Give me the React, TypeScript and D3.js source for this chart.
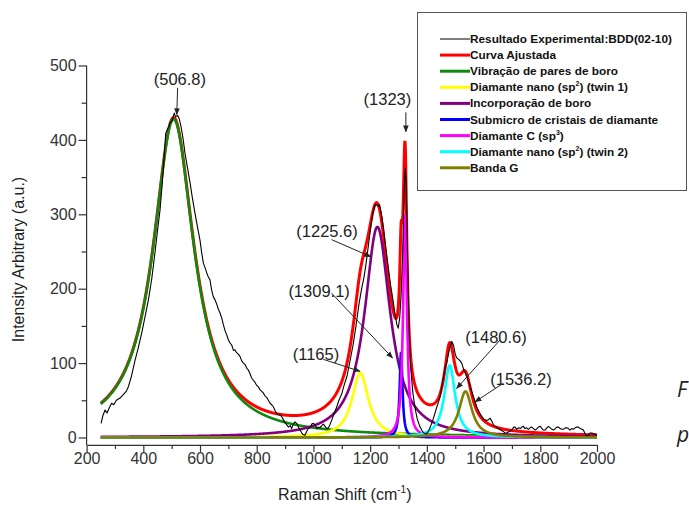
import React, { useEffect, useRef } from 'react';
import * as d3 from 'd3';

// experimental spectrum (Raman shift, intensity)
const expShift = [251, 258, 265, 272, 280, 288, 296, 305, 318, 330, 340, 347, 358, 371, 382, 394, 406, 418, 430, 441, 450, 459, 466, 471, 476, 479, 485, 490, 494, 500, 505, 509, 514, 521, 527, 533, 540, 547, 556, 565, 573, 582, 591, 600, 606, 612, 618, 624, 629, 635, 641, 647, 653, 660, 665, 671, 677, 682, 688, 694, 700, 706, 712, 718, 723, 729, 735, 741, 747, 753, 759, 765, 770, 776, 782, 788, 794, 800, 806, 812, 818, 823, 829, 835, 841, 847, 853, 859, 865, 871, 877, 883, 888, 894, 900, 906, 912, 918, 923, 929, 935, 941, 947, 953, 959, 964, 970, 976, 982, 988, 994, 1000, 1006, 1012, 1018, 1023, 1029, 1035, 1041, 1047, 1053, 1059, 1065, 1073, 1082, 1090, 1100, 1108, 1118, 1130, 1140, 1150, 1160, 1170, 1178, 1185, 1195, 1203, 1210, 1216, 1222, 1228, 1233, 1240, 1248, 1256, 1264, 1272, 1280, 1288, 1294, 1299, 1304, 1309, 1314, 1318, 1321, 1324, 1327, 1330, 1334, 1338, 1343, 1350, 1358, 1366, 1375, 1383, 1390, 1398, 1405, 1412, 1420, 1428, 1436, 1447, 1458, 1465, 1470, 1476, 1482, 1488, 1494, 1500, 1505, 1512, 1517, 1523, 1531, 1541, 1550, 1558, 1567, 1576, 1585, 1594, 1602, 1611, 1617, 1623, 1629, 1635, 1641, 1652, 1660, 1670, 1676, 1682, 1690, 1700, 1706, 1711, 1717, 1723, 1729, 1735, 1740, 1746, 1752, 1758, 1764, 1770, 1776, 1782, 1788, 1794, 1800, 1806, 1811, 1817, 1823, 1829, 1835, 1841, 1847, 1853, 1858, 1864, 1870, 1876, 1882, 1888, 1893, 1899, 1905, 1911, 1917, 1923, 1929, 1935, 1941, 1947, 1952, 1958, 1964, 1970, 1976, 1982, 1988, 1994, 2000];
const expIntensity = [19, 30, 37, 33, 40, 46, 44, 50, 53, 58, 62, 68, 82, 104, 120, 140, 162, 185, 214, 248, 278, 306, 338, 364, 392, 409, 414, 418, 423, 425, 430, 436, 431, 433, 428, 418, 402, 382, 362, 342, 322, 302, 283, 265, 248, 234, 228, 221, 216, 212, 198, 189, 185, 178, 172, 167, 160, 152, 144, 138, 131, 127, 124, 117, 118, 114, 112, 109, 103, 100, 98, 93, 91, 86, 80, 77, 74, 70, 68, 64, 62, 60, 56, 54, 50, 46, 44, 41, 36, 32, 31, 30, 28, 24, 20, 17, 14, 16, 12, 18, 21, 19, 14, 10, 6, 4, 3, 8, 12, 13, 18, 19, 17, 12, 14, 13, 16, 18, 15, 12, 13, 18, 24, 32, 41, 50, 59, 70, 82, 105, 125, 150, 178, 200, 215, 232, 262, 285, 303, 312, 313, 311, 313, 300, 278, 252, 228, 205, 186, 165, 152, 147, 160, 190, 240, 300, 345, 362, 340, 280, 200, 140, 95, 62, 40, 25, 15, 9, 6, 5, 8, 14, 22, 32, 42, 55, 80, 95, 100, 112, 122, 129, 124, 112, 107, 105, 103, 100, 90, 82, 72, 62, 52, 41, 34, 28, 24, 23, 24, 26, 22, 17, 15, 12, 10, 8, 6, 6, 8, 10, 14, 14, 11, 13, 12, 14, 15, 12, 13, 11, 13, 14, 12, 10, 12, 14, 15, 12, 10, 10, 13, 15, 13, 11, 10, 12, 14, 14, 12, 11, 11, 13, 13, 12, 10, 12, 11, 13, 14, 14, 12, 11, 10, 5, 2, 4, 6, 6, 5, 4, 3];

// fitted Lorentzian peaks: green, yellow, purple, blue, magenta, cyan, olive
const peakNames = ['Vibração de pares de boro', 'Diamante nano (sp2) (twin 1)', 'Incorporação de boro', 'Submicro de cristais de diamante', 'Diamante C (sp3)', 'Diamante nano (sp2) (twin 2)', 'Banda G'];
const peakCenters = [506.8, 1165, 1225.6, 1309.1, 1323, 1480.6, 1536.2];
const peakHeights = [428, 87, 283, 115, 300, 97, 62];
const peakHalfWidths = [88, 35, 55, 6, 8, 23, 28];
const peakColors = ['#0f8a0f', '#ffff00', '#800080', '#0000ff', '#ff00ff', '#00ffff', '#808000'];

// legend rows: [main text, superscript, rest, color, stroke]
const legendRows = [
  ['Resultado Experimental:BDD(02-10)', '', '', '#000000', 1],
  ['Curva Ajustada', '', '', '#ff0000', 3],
  ['Vibração de pares de boro', '', '', '#0f8a0f', 3],
  ['Diamante nano (sp', '2', ') (twin 1)', '#ffff00', 3],
  ['Incorporação de boro', '', '', '#800080', 3],
  ['Submicro de cristais de diamante', '', '', '#0000ff', 3],
  ['Diamante C (sp', '3', ')', '#ff00ff', 3],
  ['Diamante nano (sp', '2', ') (twin 2)', '#00ffff', 3],
  ['Banda G', '', '', '#808000', 3],
];

// peak labels: text position and arrow (data units)
const annLabels = ['(506.8)', '(1323)', '(1225.6)', '(1309.1)', '(1165)', '(1480.6)', '(1536.2)'];
const annText = [[529, 474], [1261, 447], [1048, 269], [1020, 189], [1009, 104], [1644, 127], [1732, 71]];
const annArrow = [[521, 470, 518, 434], [1326, 437, 1326, 411], [1064, 266, 1202, 243], [1064, 194, 1279, 107], [1035, 105, 1164, 89], [1658, 131, 1505, 66], [1670, 73, 1570, 48]];

const xTicks = [200, 400, 600, 800, 1000, 1200, 1400, 1600, 1800, 2000];
const yTicks = [0, 100, 200, 300, 400, 500];

const FONT = "Arial, 'Liberation Sans', sans-serif";

const App = () => {
  const svgRef = useRef(null);

  useEffect(() => {
    const svg = d3.select(svgRef.current);
    svg.selectAll('*').remove();

    const x = d3.scaleLinear().domain([200, 2000]).range([86.6, 597]);
    const y = d3.scaleLinear().domain([0, 500]).range([437.5, 65.5]);
    const axisColor = '#333';

    const defs = svg.append('defs');
    defs.append('marker')
      .attr('id', 'arr')
      .attr('viewBox', '0 0 10 10')
      .attr('refX', 9).attr('refY', 5)
      .attr('markerWidth', 7).attr('markerHeight', 7)
      .attr('markerUnits', 'userSpaceOnUse')
      .attr('orient', 'auto')
      .append('path')
      .attr('d', 'M0,1 L10,5 L0,9 Z')
      .attr('fill', '#222');

    // axes
    const xg = svg.append('g').attr('transform', `translate(0, ${y(-10)})`);
    xg.call(d3.axisBottom(x).tickValues(xTicks).tickSize(7).tickSizeOuter(0).tickPadding(1).tickFormat(d3.format('d')));
    xg.append('g').call(d3.axisBottom(x).tickValues(d3.range(300, 2000, 200)).tickSize(4).tickFormat(() => ''))
      .select('.domain').remove();
    xg.selectAll('text').attr('font-size', 16).attr('font-family', FONT).attr('fill', axisColor);
    xg.selectAll('line,path').attr('stroke', axisColor).attr('stroke-width', 1.2);

    const yg = svg.append('g').attr('transform', `translate(${x(200)}, 0)`);
    yg.call(d3.axisLeft(y).tickValues(yTicks).tickSize(8).tickSizeOuter(0).tickPadding(2));
    yg.select('.domain').remove();
    yg.append('g').call(d3.axisLeft(y).tickValues(d3.range(50, 500, 100)).tickSize(5).tickFormat(() => ''))
      .select('.domain').remove();
    yg.append('line').attr('x1', 0).attr('x2', 0).attr('y1', y(-10)).attr('y2', y(500));
    yg.selectAll('text').attr('font-size', 16).attr('font-family', FONT).attr('fill', axisColor);
    yg.selectAll('line').attr('stroke', axisColor).attr('stroke-width', 1.2);

    // axis titles
    svg.append('text')
      .attr('transform', `translate(24, ${(y(0) + y(500)) / 2 + 8}) rotate(-90)`)
      .attr('text-anchor', 'middle')
      .attr('font-family', FONT).attr('font-size', 16).attr('fill', '#222')
      .text('Intensity Arbitrary (a.u.)');
    const xt = svg.append('text')
      .attr('x', (x(200) + x(2000)) / 2 + 3).attr('y', 500)
      .attr('text-anchor', 'middle')
      .attr('font-family', FONT).attr('font-size', 16).attr('fill', '#222');
    xt.append('tspan').text('Raman Shift (cm');
    xt.append('tspan').attr('font-size', 10).attr('dy', -7).text('-1');
    xt.append('tspan').attr('dy', 7).text(')');

    // fitted curves
    const grid = d3.range(250, 2000.5, 1);
    const lor = (i, v) => peakHeights[i] / (1 + ((v - peakCenters[i]) / peakHalfWidths[i]) ** 2);
    const line = d3.line().x((d) => x(d[0])).y((d) => y(d[1]));

    const sum = grid.map((v) => [v, peakCenters.reduce((s, _c, i) => s + lor(i, v), 0)]);
    svg.append('path').datum(sum)
      .attr('fill', 'none').attr('stroke', '#ff0000').attr('stroke-width', 3).attr('d', line);

    peakNames.forEach((_n, i) => {
      svg.append('path').datum(grid.map((v) => [v, lor(i, v)]))
        .attr('fill', 'none').attr('stroke', peakColors[i]).attr('stroke-width', 2.6)
        .attr('d', line);
    });

    // experimental
    svg.append('path').datum(expShift.map((v, i) => [v, expIntensity[i]]))
      .attr('fill', 'none').attr('stroke', '#000').attr('stroke-width', 1.1)
      .attr('stroke-linejoin', 'round').attr('d', line);

    // peak annotations
    annLabels.forEach((lab, i) => {
      svg.append('text')
        .attr('x', x(annText[i][0])).attr('y', y(annText[i][1]))
        .attr('text-anchor', 'middle')
        .attr('font-family', FONT).attr('font-size', 16.5).attr('fill', '#222')
        .text(lab);
      const a = annArrow[i];
      svg.append('line')
        .attr('x1', x(a[0])).attr('y1', y(a[1])).attr('x2', x(a[2])).attr('y2', y(a[3]))
        .attr('stroke', '#222').attr('stroke-width', 1)
        .attr('marker-end', 'url(#arr)');
    });

    // legend
    const lg = svg.append('g');
    lg.append('rect').attr('x', 417.5).attr('y', 12.5).attr('width', 269).attr('height', 178)
      .attr('fill', '#fff').attr('stroke', '#555').attr('stroke-width', 1);
    legendRows.forEach((r, i) => {
      const ly = 39 + i * 16.1;
      lg.append('line').attr('x1', 440).attr('x2', 470).attr('y1', ly).attr('y2', ly)
        .attr('stroke', r[3]).attr('stroke-width', r[4]);
      const t = lg.append('text').attr('x', 470).attr('y', ly + 4)
        .attr('font-family', FONT).attr('font-size', 11.8).attr('font-weight', 'bold').attr('fill', '#111');
      t.append('tspan').text(r[0]);
      if (r[1]) {
        t.append('tspan').attr('font-size', 7).attr('dy', -5).text(r[1]);
        t.append('tspan').attr('dy', 5).text(r[2]);
      }
    });

    // stray page text at the right edge
    svg.append('text').attr('x', 677).attr('y', 397)
      .attr('font-family', "'Open Sans', sans-serif").attr('font-style', 'italic').attr('font-size', 21).attr('fill', '#222')
      .text('F');
    svg.append('text').attr('x', 677).attr('y', 442)
      .attr('font-family', "'Open Sans', sans-serif").attr('font-style', 'italic').attr('font-size', 21).attr('fill', '#222')
      .text('p');
  }, []);

  return (
    <svg ref={svgRef} width={689} height={507}
      style={{ position: 'absolute', left: 0, top: 0, background: '#fff', display: 'block' }} />
  );
};

export default App;
